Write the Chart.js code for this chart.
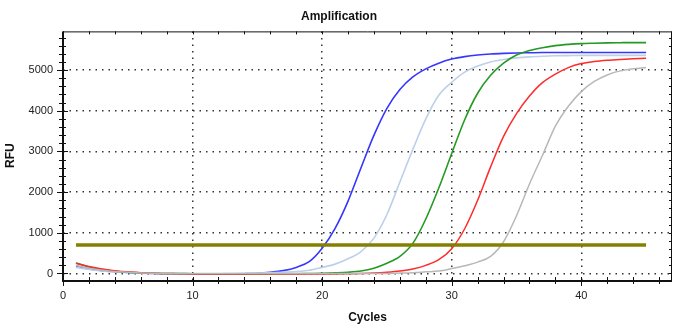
<!DOCTYPE html>
<html>
<head>
<meta charset="utf-8">
<title>Amplification</title>
<script src="https://cdn.jsdelivr.net/npm/chart.js@4/dist/chart.umd.min.js"></script>
<style>
  html, body { margin: 0; padding: 0; background: #fff; }
  #amp { display: block; }
</style>
</head>
<body>
<canvas id="amp" width="680" height="330"></canvas>
<script>
// qPCR amplification curves: RFU per cycle for five wells, plus the threshold line
const cycles = [1, 2, 3, 4, 5, 6, 7, 8, 9, 10, 11, 12, 13, 14, 15, 16, 17, 18, 19, 20, 21, 22, 23,
  24, 25, 26, 27, 28, 29, 30, 31, 32, 33, 34, 35, 36, 37, 38, 39, 40, 41, 42, 43, 44, 45];

const rfuBlue = [170, 110, 70, 45, 25, 10, 0, -5, -5, -10, -10, -10, -10, -5, 5, 30, 70, 150, 290, 620,
  1110, 1780, 2600, 3400, 4060, 4520, 4830, 5030, 5170, 5270, 5330, 5370, 5395, 5410, 5420, 5425,
  5430, 5430, 5430, 5430, 5430, 5430, 5430, 5430, 5430];
const rfuSteel = [150, 100, 65, 40, 25, 12, 5, 0, 0, -5, -5, -5, 0, 5, 10, 20, 30, 45, 80, 150,
  230, 360, 540, 870, 1450, 2250, 3050, 3800, 4380, 4700, 4950, 5100, 5200, 5260, 5300, 5325,
  5340, 5350, 5355, 5360, 5360, 5360, 5360, 5360, 5360];
const rfuGreen = [260, 160, 95, 55, 30, 15, 5, 0, 0, -5, -5, -10, -10, -10, -10, -10, -5, -5, 0, 5,
  15, 30, 60, 130, 250, 420, 740, 1340, 2100, 2950, 3780, 4430, 4870, 5170, 5370, 5480,
  5550, 5600, 5630, 5650, 5660, 5668, 5672, 5675, 5675];
const rfuRed = [250, 170, 110, 70, 40, 20, 5, 0, -5, -10, -10, -10, -10, -10, -10, -10, -10, -10, -10, -10,
  -10, -5, 0, 10, 30, 60, 110, 200, 340, 610, 1100, 1800, 2620, 3370, 3930, 4360,
  4690, 4900, 5060, 5160, 5210, 5240, 5260, 5275, 5290];
const rfuGray = [200, 130, 80, 50, 30, 15, 5, 0, 0, 0, 0, 0, 0, 0, 0, 0, 0, 0, 0, 0,
  0, 0, 0, 0, 0, 10, 20, 40, 60, 120, 190, 280, 420, 780, 1420, 2200,
  2900, 3620, 4110, 4470, 4720, 4880, 4980, 5030, 5060];

const thresholdCycles = [1, 45];
const thresholdRfu = 700;

const xTicks = [0, 10, 20, 30, 40];
const yTicks = [0, 1000, 2000, 3000, 4000, 5000];
const xMinorStep = 2;     // small tick marks between labels
const yMinorStep = 200;

const FONT = "'Liberation Sans', Arial, sans-serif";
const pts = vals => vals.map((v, i) => ({ x: cycles[i], y: v }));

function curve(vals, color, width) {
  return {
    data: pts(vals), borderColor: color, borderWidth: width,
    pointRadius: 0, cubicInterpolationMode: 'monotone', fill: false,
  };
}

// frame + tick marks on all four sides (left/bottom cross the axis, top/right point inward)
const frameTicks = {
  id: 'frameTicks',
  afterDraw(chart) {
    const { ctx, chartArea: a, scales: { x, y } } = chart;
    ctx.save();
    ctx.strokeStyle = '#111';
    ctx.lineWidth = 1;
    ctx.beginPath();
    for (let c = 0; c <= x.max; c += xMinorStep) {
      const px = Math.round(x.getPixelForValue(c)) + 0.5;
      const major = xTicks.includes(c);
      ctx.moveTo(px, a.bottom - 3); ctx.lineTo(px, a.bottom + (major ? 6 : 4));
      ctx.moveTo(px, a.top); ctx.lineTo(px, a.top + 3);
    }
    for (let v = 0; v <= y.max; v += yMinorStep) {
      const py = Math.round(y.getPixelForValue(v)) + 0.5;
      const major = yTicks.includes(v);
      ctx.moveTo(a.left - (major ? 6 : 4), py); ctx.lineTo(a.left + (major ? 5 : 3), py);
      ctx.moveTo(a.right - 3, py); ctx.lineTo(a.right, py);
    }
    ctx.stroke();

    ctx.lineWidth = 1;
    ctx.beginPath();
    ctx.moveTo(a.left, a.top + 0.5); ctx.lineTo(a.right, a.top + 0.5);
    ctx.moveTo(a.right - 0.5, a.top); ctx.lineTo(a.right - 0.5, a.bottom);
    ctx.stroke();
    ctx.lineWidth = 2;
    ctx.beginPath();
    ctx.moveTo(a.left, a.top); ctx.lineTo(a.left, a.bottom + 1);
    ctx.lineTo(a.right, a.bottom + 1);
    ctx.stroke();
    ctx.restore();
  },
};

const dotted = '#333';

new Chart(document.getElementById('amp'), {
  type: 'line',
  data: {
    datasets: [
      {
        data: thresholdCycles.map(c => ({ x: c, y: thresholdRfu })),
        borderColor: '#858000', borderWidth: 3.5, pointRadius: 0, fill: false,
      },
      curve(rfuGray, '#b8b8b8', 1.5),
      curve(rfuRed, '#ff2a2a', 1.5),
      curve(rfuGreen, '#239a23', 1.6),
      curve(rfuSteel, '#bcd0ea', 1.6),
      curve(rfuBlue, '#3636ff', 1.6),
    ],
  },
  options: {
    responsive: false,
    devicePixelRatio: 1,
    animation: false,
    layout: { padding: { left: 6, right: 8, top: 0, bottom: 0 } },
    plugins: {
      legend: { display: false },
      tooltip: { enabled: false },
      title: {
        display: true, text: 'Amplification', color: '#111',
        font: { family: FONT, size: 12, weight: 'bold' },
        padding: { top: 9, bottom: 8 },
      },
    },
    scales: {
      x: {
        type: 'linear', min: 0, max: 47,
        afterFit: s => { s.height = 50; },
        afterBuildTicks: s => { s.ticks = xTicks.map(v => ({ value: v })); },
        grid: { color: c => (c.tick && c.tick.value > 0 ? dotted : 'rgba(0,0,0,0)'), lineWidth: 1.5, drawTicks: false },
        border: { display: false, dash: [1.5, 5] },
        ticks: {
          autoSkip: false, maxRotation: 0, padding: 9, color: '#222',
          font: { family: FONT, size: 11 },
          callback: v => String(v),
        },
        title: {
          display: true, text: 'Cycles', color: '#111',
          font: { family: FONT, size: 12, weight: 'bold' },
          padding: { top: 0, bottom: 5 },
        },
      },
      y: {
        min: -160, max: 5950,
        afterFit: s => { s.width = 57; },
        afterBuildTicks: s => { s.ticks = yTicks.map(v => ({ value: v })); },
        grid: { color: dotted, lineWidth: 1.5, drawTicks: false },
        border: { display: false, dash: [1.5, 5] },
        ticks: {
          autoSkip: false, padding: 10, color: '#222',
          font: { family: FONT, size: 11 },
          callback: v => String(v),
        },
        title: {
          display: true, text: 'RFU', color: '#111',
          font: { family: FONT, size: 12, weight: 'bold' },
          padding: { top: -3, bottom: 0 },
        },
      },
    },
  },
  plugins: [frameTicks],
});
</script>
</body>
</html>
